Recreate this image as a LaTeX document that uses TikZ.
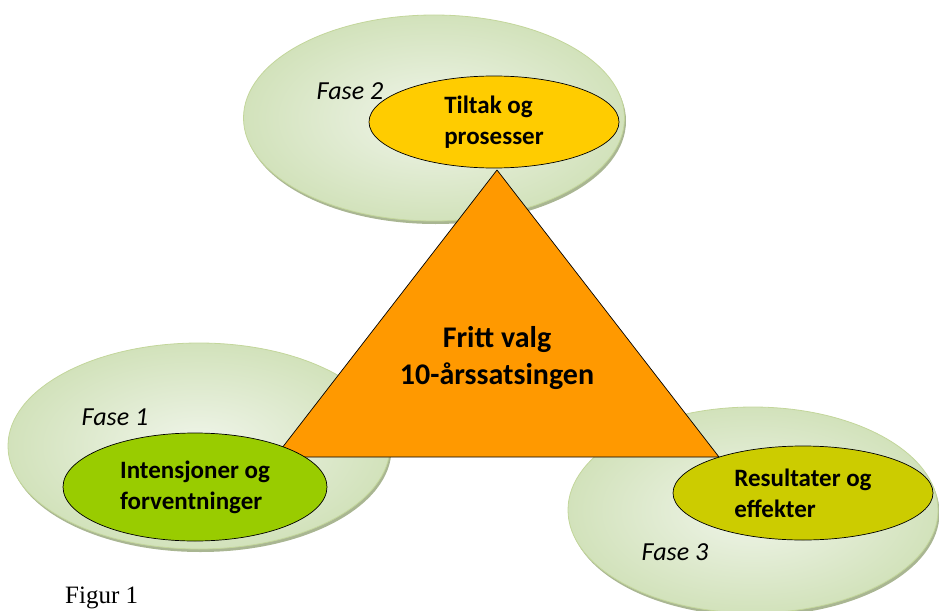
\documentclass[tikz,border=0pt]{standalone}
\usepackage{fontspec}
\setmainfont{Carlito}
\newfontfamily\figfont{Liberation Serif}
\usetikzlibrary{shapes.geometric,shadows}

\definecolor{PhaseEdge}{HTML}{C3D69B}
\definecolor{PhaseLight}{HTML}{F0F5EA}
\definecolor{PhaseDark}{HTML}{D2E2BB}
\definecolor{PhaseShadow}{HTML}{A9B692}
\definecolor{CoreOrange}{HTML}{FF9900}
\definecolor{StepYellow}{HTML}{FFCC00}
\definecolor{StepGreen}{HTML}{99CC00}
\definecolor{StepOlive}{HTML}{CCCC00}

\begin{document}
\begin{tikzpicture}[x=1pt, y=-1pt,
PhaseStyle/.style={ellipse, draw=PhaseEdge, line width=0.8pt,
                inner color=PhaseLight, outer color=PhaseDark,
                drop shadow={shadow xshift=1.5pt, shadow yshift=-3pt,
                fill=PhaseShadow, opacity=1}},
ItemStyle/.style={ellipse, draw, line width=0.7pt, inner sep=0pt,
                align=left, font=\fontsize{25}{31}\selectfont\bfseries},
LabelStyle/.style={font=\fontsize{26}{30}\selectfont\itshape},]
\clip (0,0) rectangle (939,610);
% three phases
\node [PhaseStyle, minimum width=381, minimum height=206] (p2) at (434,118) {};
\node [PhaseStyle, minimum width=382, minimum height=206] (p1) at (199,446) {};
\node [PhaseStyle, minimum width=370, minimum height=206] (p3) at (753,510) {};
% the triangle
\coordinate (top) at (497,170);
\coordinate (bl) at (275,457);
\coordinate (br) at (719,457);
\draw [fill=CoreOrange, line width=0.7pt, line join=round] (top) -- (bl) -- (br) -- cycle;
\node [font=\fontsize{30}{37}\selectfont\bfseries, align=center] (core) at (497,358)
      {Fritt valg\\10-årssatsingen};
% inner ellipses
\node [ItemStyle, fill=StepYellow, minimum width=250, minimum height=92] (s2) at (494,122)
      {Tiltak og\\prosesser};
\node [ItemStyle, fill=StepGreen, minimum width=264, minimum height=108] (s1) at (195,487)
      {Intensjoner og\\forventninger};
\node [ItemStyle, fill=StepOlive, minimum width=260, minimum height=94] (s3) at (803,493)
      {Resultater og\\effekter};
% phase labels
\node [LabelStyle] (f2) at (350,91) {Fase 2};
\node [LabelStyle] (f1) at (115,417) {Fase 1};
\node [LabelStyle] (f3) at (675,552) {Fase 3};
\node [anchor=base west, inner sep=0pt, font=\figfont\fontsize{25}{28}\selectfont] (cap) at (65,603) {Figur 1};
\end{tikzpicture}
\end{document}
